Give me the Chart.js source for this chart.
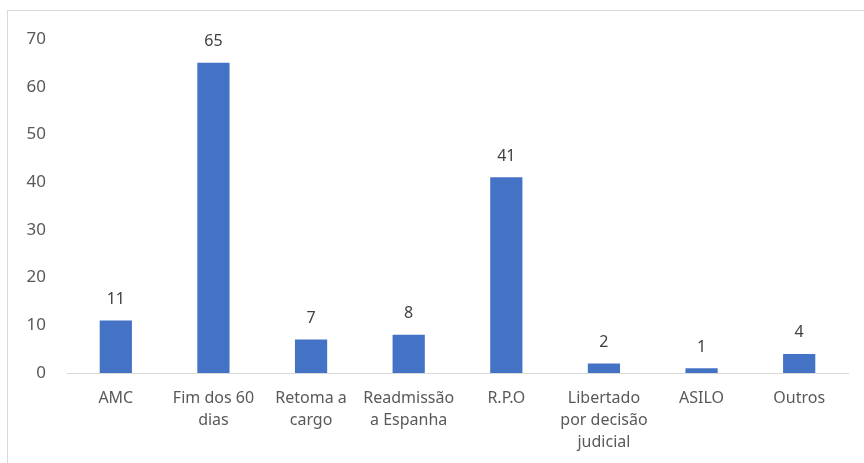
<!DOCTYPE html>
<html>
<head>
<meta charset="utf-8">
<script src="https://cdn.jsdelivr.net/npm/chart.js@4/dist/chart.umd.min.js"></script>
<style>
  html, body { margin: 0; padding: 0; background: #fff; }
  #frame {
    position: absolute; left: 7px; top: 10px; width: 900px; height: 500px;
    border-left: 1px solid #d9d9d9; border-top: 1px solid #d9d9d9;
  }
  #wrap { position: absolute; left: 0; top: 0; width: 864px; height: 463px; }
</style>
</head>
<body>
<div id="frame"></div>
<div id="wrap"><canvas id="chart"></canvas></div>
<script>
// Categories and values
const categories = [
    'AMC',
    ['Fim dos 60', 'dias'],
    ['Retoma a', 'cargo'],
    ['Readmissão', 'a Espanha'],
    'R.P.O',
    ['Libertado', 'por decisão', 'judicial'],
    'ASILO',
    'Outros'
];
const values = [11, 65, 7, 8, 41, 2, 1, 4];
const yMax = 70;
const yStep = 10;

const fontFamily = '"Noto Sans", "Open Sans", sans-serif';

// Writes the value above each bar
const valueLabels = {
    id: 'valueLabels',
    afterDatasetsDraw(chart) {
        const ctx = chart.ctx;
        const meta = chart.getDatasetMeta(0);
        ctx.save();
        ctx.font = '16px ' + fontFamily;
        ctx.fillStyle = '#404040';
        ctx.textAlign = 'center';
        ctx.textBaseline = 'middle';
        meta.data.forEach((bar, i) => {
            ctx.fillText(String(values[i]), bar.x, bar.y - 21);
        });
        ctx.restore();
    }
};

new Chart(document.getElementById('chart'), {
    type: 'bar',
    data: {
        labels: categories,
        datasets: [{
            data: values,
            backgroundColor: '#4472c4',
            borderWidth: 0,
            categoryPercentage: 1,
            barPercentage: 0.33
        }]
    },
    options: {
        responsive: true,
        maintainAspectRatio: false,
        animation: false,
        layout: { padding: { left: 8, top: 39, right: 16, bottom: 0 } },
        plugins: {
            legend: { display: false },
            tooltip: { enabled: false }
        },
        scales: {
            x: {
                grid: { display: false, drawTicks: false },
                border: { display: true, color: '#d9d9d9', width: 1 },
                ticks: {
                    color: '#595959',
                    font: { family: fontFamily, size: 16, lineHeight: 1.375 },
                    padding: 14,
                    maxRotation: 0,
                    autoSkip: false
                },
                afterFit(scale) { scale.height = 90; }
            },
            y: {
                min: 0,
                max: yMax,
                grid: { display: false, drawTicks: false },
                border: { display: false },
                ticks: {
                    stepSize: yStep,
                    color: '#595959',
                    font: { family: fontFamily, size: 17 },
                    padding: 21
                },
                afterFit(scale) { scale.width = 59; }
            }
        }
    },
    plugins: [valueLabels]
});
</script>
</body>
</html>
